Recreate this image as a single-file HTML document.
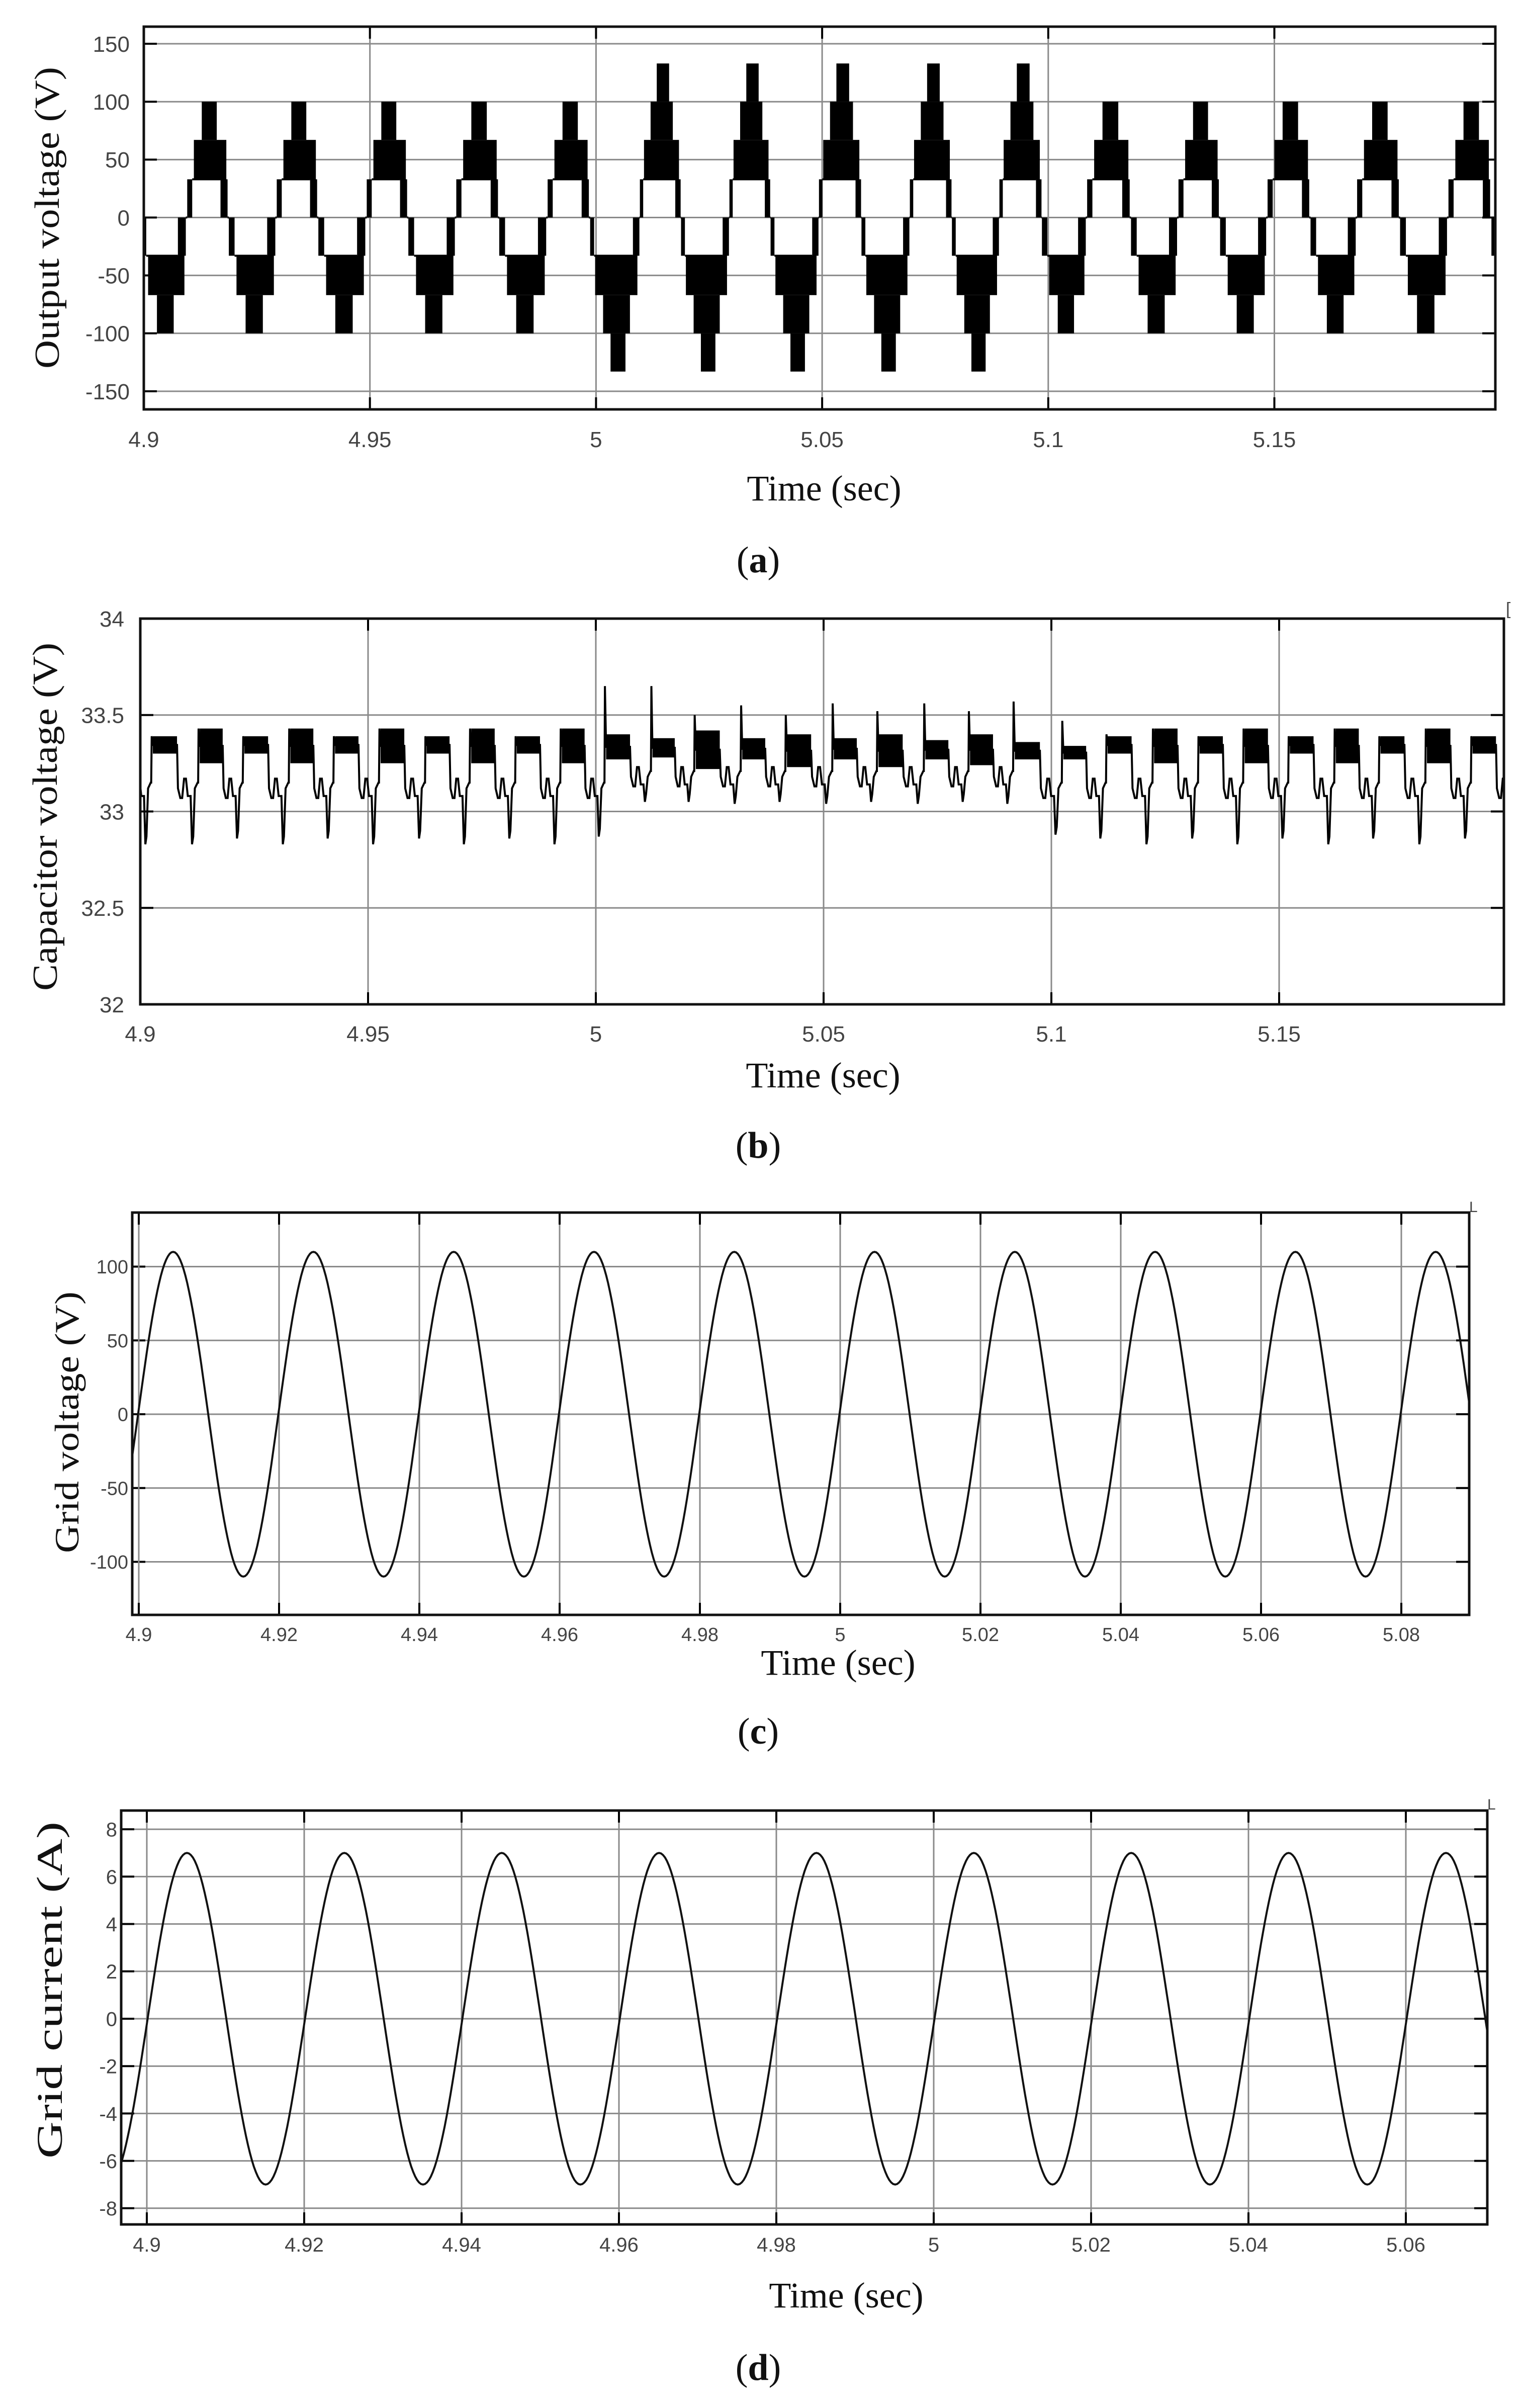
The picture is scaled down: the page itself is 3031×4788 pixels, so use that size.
<!DOCTYPE html>
<html>
<head>
<meta charset="utf-8">
<style>
html,body{margin:0;padding:0;background:#fff;}
svg{display:block;}
.tick{font-family:"Liberation Sans",Arial,sans-serif;fill:#444;}
.ttl{font-family:"Liberation Serif",serif;fill:#111;}
</style>
</head>
<body>
<svg id="fig" width="3031" height="4788" viewBox="0 0 3031 4788" xmlns="http://www.w3.org/2000/svg">
<rect x="0" y="0" width="3031" height="4788" fill="#fff"/>
<defs>
<clipPath id="clipA"><rect x="286" y="53" width="2688" height="761"/></clipPath>
<clipPath id="clipB"><rect x="279" y="1230" width="2712" height="767"/></clipPath>
<clipPath id="clipC"><rect x="263" y="2411" width="2659" height="800"/></clipPath>
<clipPath id="clipD"><rect x="241" y="3600" width="2717" height="823"/></clipPath>
</defs>
<g id="panelA"></g>
<g id="panelB"></g>
<g id="panelC"></g>
<g id="panelD"></g>
</svg>
<script>
// ---------- Panel (a) data: multilevel output voltage ----------
var aHalfStart = [4.8993,4.9096,4.9188,4.9294,4.9386,4.9493,4.9585,4.9691,4.9786,4.9893,4.9987,5.0097,5.0188,5.0295,5.0386,5.0493,5.0587,5.0694,5.0787,5.0892,5.0986,5.1086,5.1183,5.1288,5.1380,5.1485,5.1580,5.1683,5.1778,5.1885,5.1980,5.2080];
var aHalfSign  = [-1,1,-1,1,-1,1,-1,1,-1,1,-1,1,-1,1,-1,1,-1,1,-1,1,-1,1,-1,1,-1,1,-1,1,-1,1,-1];
var aHalfLevels= [3,3,3,3,3,3,3,3,3,3,4,4,4,4,4,4,4,4,4,4,3,3,3,3,3,3,3,3,3,3,3];
var aVoltageLevels = [0,33,67,100,133];
var aYTicks = [-150,-100,-50,0,50,100,150];
var aXTicks = [4.9,4.95,5,5.05,5.1,5.15];
var aXTickLabels = ["4.9","4.95","5","5.05","5.1","5.15"];

// ---------- Panel (b) data: capacitor voltage ----------
var bRise = [4.8925,4.9024,4.9127,4.9225,4.9326,4.9424,4.9524,4.9625,4.9723,4.9823,4.9922,5.0019,5.0121,5.0216,5.0318,5.0416,5.0519,5.0617,5.0720,5.0818,5.0916,5.1023,5.1120,5.1222,5.1322,5.1421,5.1520,5.1621,5.1719,5.1821,5.1921,5.2021];
var bSpike = [33.39,33.39,33.43,33.39,33.43,33.39,33.43,33.39,33.43,33.39,33.43,33.65,33.65,33.50,33.55,33.50,33.56,33.52,33.56,33.52,33.57,33.47,33.40,33.43,33.39,33.43,33.39,33.43,33.39,33.43,33.39];
var bPlatHi = [33.39,33.39,33.43,33.39,33.43,33.39,33.43,33.39,33.43,33.39,33.43,33.40,33.38,33.42,33.38,33.40,33.38,33.40,33.37,33.40,33.36,33.34,33.39,33.43,33.39,33.43,33.39,33.43,33.39,33.43,33.39];
var bPlatLo = [33.30,33.30,33.25,33.30,33.25,33.30,33.25,33.30,33.25,33.30,33.25,33.27,33.28,33.22,33.27,33.23,33.27,33.23,33.27,33.24,33.27,33.27,33.30,33.25,33.30,33.25,33.30,33.25,33.30,33.25,33.30];
var bStep = [33.12,33.12,33.12,33.12,33.12,33.12,33.12,33.12,33.12,33.12,33.12,33.18,33.18,33.18,33.18,33.18,33.18,33.18,33.18,33.18,33.12,33.12,33.12,33.12,33.12,33.12,33.12,33.12,33.12,33.12,33.12];
var bDip = [32.83,32.83,32.86,32.83,32.86,32.83,32.86,32.83,32.86,32.83,32.87,33.05,33.05,33.04,33.05,33.04,33.05,33.04,33.05,33.04,32.88,32.86,32.83,32.86,32.83,32.86,32.83,32.86,32.83,32.86,32.83];
// typical in-cycle shape (fraction of cycle, offset from step level)
var bShapeFrac = [0.57,0.62,0.66,0.70,0.74,0.78,0.84];
var bShapeRel  = [0.00,-0.05,-0.05,0.05,0.05,-0.04,-0.04];
var bYTicks = [32,32.5,33,33.5,34];
var bYTickLabels = ["32","32.5","33","33.5","34"];
var bXTicks = [4.9,4.95,5,5.05,5.1,5.15];
var bXTickLabels = ["4.9","4.95","5","5.05","5.1","5.15"];

// ---------- Panel (c) data: grid voltage extrema ----------
var cExtT = [4.8949,4.9049,4.9149,4.9249,4.9349,4.9449,4.9549,4.9649,4.9749,4.9849,4.9949,5.0049,5.0149,5.0249,5.0349,5.0449,5.0549,5.0649,5.0749,5.0849,5.0949];
var cExtV = [-110,110,-110,110,-110,110,-110,110,-110,110,-110,110,-110,110,-110,110,-110,110,-110,110,-110];
var cYTicks = [-100,-50,0,50,100];
var cXTicks = [4.9,4.92,4.94,4.96,4.98,5,5.02,5.04,5.06,5.08];
var cXTickLabels = ["4.9","4.92","4.94","4.96","4.98","5","5.02","5.04","5.06","5.08"];

// ---------- Panel (d) data: grid current extrema ----------
var dExtT = [4.8951,4.9051,4.9151,4.9251,4.9351,4.9451,4.9551,4.9651,4.9751,4.9851,4.9951,5.0051,5.0151,5.0251,5.0351,5.0451,5.0551,5.0651,5.0751];
var dExtV = [-7,7,-7,7,-7,7,-7,7,-7,7,-7,7,-7,7,-7,7,-7,7,-7];
var dYTicks = [-8,-6,-4,-2,0,2,4,6,8];
var dXTicks = [4.9,4.92,4.94,4.96,4.98,5,5.02,5.04,5.06];
var dXTickLabels = ["4.9","4.92","4.94","4.96","4.98","5","5.02","5.04","5.06"];

var NS = "http://www.w3.org/2000/svg";
function mk(parent, tag, attrs){
  var e = document.createElementNS(NS, tag);
  for (var k in attrs) e.setAttribute(k, attrs[k]);
  parent.appendChild(e);
  return e;
}
function fmt(v){ return String(v); }

function frame(g, P){
  // gridlines
  P.yt.forEach(function(v){
    var y = P.sy(v);
    var l = mk(g,'line',{x1:P.L,x2:P.R,y1:y,y2:y,stroke:'#8a8a8a','stroke-width':3});
    
    
    var t1 = mk(g,'line',{x1:P.L,x2:P.L+26,y1:y,y2:y,stroke:'#000','stroke-width':4});
    
    
    var t2 = mk(g,'line',{x1:P.R-26,x2:P.R,y1:y,y2:y,stroke:'#000','stroke-width':4});
    
    
  });
  P.xt.forEach(function(v){
    var x = P.sx(v);
    var l = mk(g,'line',{x1:x,x2:x,y1:P.T,y2:P.B,stroke:'#8a8a8a','stroke-width':3});
    
    
    var t1 = mk(g,'line',{x1:x,x2:x,y1:P.B-24,y2:P.B,stroke:'#000','stroke-width':4});
    
    
    var t2 = mk(g,'line',{x1:x,x2:x,y1:P.T,y2:P.T+24,stroke:'#000','stroke-width':4});
    
    
  });
}
function border(g, P){
  var r = mk(g,'rect',{x:P.L,y:P.T,width:P.R-P.L,height:P.B-P.T,fill:'none',stroke:'#111','stroke-width':5});
  
  
}
function labels(g, P){
  P.yt.forEach(function(v,i){
    var t = mk(g,'text',{x:P.ylx,y:P.sy(v)+P.fs*0.36,'text-anchor':'end','font-size':P.fs,'class':'tick'});
    t.textContent = P.ytl ? P.ytl[i] : fmt(v);
    
    
  });
  P.xt.forEach(function(v,i){
    var t = mk(g,'text',{x:P.sx(v),y:P.xly,'text-anchor':'middle','font-size':P.fs,'class':'tick'});
    t.textContent = P.xtl[i];
    
    
  });
  var xt = mk(g,'text',{x:P.xtx,y:P.xty,'text-anchor':'middle','font-size':72,'class':'ttl'});
  xt.textContent = 'Time (sec)';
  
  
  var yt = mk(g,'text',{x:0,y:0,'text-anchor':'middle','font-size':P.yfs,'class':'ttl',
    transform:'translate('+P.ytx+','+P.yty+') rotate(-90)',textLength:P.ytl2,lengthAdjust:'spacingAndGlyphs'});
  yt.textContent = P.ytitle;
  
  
  var cap = mk(g,'text',{x:P.capx,y:P.capy,'text-anchor':'middle','font-size':74,'class':'ttl'});
  
  
  var s1 = mk(cap,'tspan',{}); s1.textContent='(';
  var s2 = mk(cap,'tspan',{'font-weight':'bold'}); s2.textContent=P.cap;
  var s3 = mk(cap,'tspan',{}); s3.textContent=')';
}

// ---------------- Panel A ----------------
(function(){
  var g = document.getElementById('panelA');
  var P = {L:286,R:2974,T:53,B:814,
    sx:function(t){return 286+(t-4.9)*8994;},
    sy:function(v){return 432.5-v*2.303;},
    yt:aYTicks, xt:aXTicks, xtl:aXTickLabels, fs:44, ylx:258, xly:889,
    xtx:1639,xty:995, ytx:117,yty:433, yfs:70, ytl2:600, ytitle:'Output voltage (V)',
    cap:'a',capx:1508,capy:1138};
  frame(g,P);
  var w = mk(g,'g',{'clip-path':'url(#clipA)'});
  
  
  for (var i=0;i<aHalfSign.length;i++){
    var t0=aHalfStart[i], t1=aHalfStart[i+1], s=aHalfSign[i], n=aHalfLevels[i];
    var D=t1-t0;
    var f = function(fr){return P.sx(t0+fr*D);};
    var Y = function(k){return P.sy(s*aVoltageLevels[k]);};
    var thin = n===4 ? [[0,0.08],[0.86,0.99]] : [[0,0.12],[0.80,0.97]];
    var bands = n===4 ? [[0.10,0.95],[0.26,0.80],[0.41,0.71]] : [[0.16,0.94],[0.35,0.71]];
    thin.forEach(function(b){
      var y0=Math.min(Y(0),Y(1)), y1=Math.max(Y(0),Y(1));
      var r = mk(w,'rect',{x:f(b[0]),y:y0,width:f(b[1])-f(b[0]),height:y1-y0,fill:'#000'});
      
      
    });
    var wl = mk(w,'line',{x1:f(thin[0][1]),x2:f(thin[1][0]),y1:Y(1),y2:Y(1),stroke:'#000','stroke-width':4});
    
    
    var zl = mk(w,'line',{x1:f(thin[1][1]),x2:f(1),y1:Y(0),y2:Y(0),stroke:'#000','stroke-width':4});
    
    
    bands.forEach(function(b,k){
      var y0=Math.min(Y(k+1),Y(k+2)), y1=Math.max(Y(k+1),Y(k+2));
      var r = mk(w,'rect',{x:f(b[0]),y:y0,width:f(b[1])-f(b[0]),height:y1-y0,fill:'#000'});
      
      
    });
  }
  border(g,P);
  labels(g,P);
})();

// ---------------- Panel B ----------------
(function(){
  var g = document.getElementById('panelB');
  var P = {L:279,R:2991,T:1230,B:1997,
    sx:function(t){return 279+(t-4.9)*9060;},
    sy:function(v){return 1613.5-(v-33)*383.5;},
    yt:bYTicks, ytl:bYTickLabels, xt:bXTicks, xtl:bXTickLabels, fs:44, ylx:247, xly:2071,
    xtx:1637,xty:2162, ytx:113,yty:1624, yfs:70, ytl2:692, ytitle:'Capacitor voltage (V)',
    cap:'b',capx:1508,capy:2302};
  frame(g,P);
  var w = mk(g,'g',{'clip-path':'url(#clipB)'});
  
  
  var pts=[];
  for (var k=0;k<bSpike.length;k++){
    var r=bRise[k], Pd=bRise[k+1]-r, mid=(bPlatHi[k]+bPlatLo[k])/2;
    var T=function(fr){return P.sx(r+fr*Pd);};
    pts.push([T(0),P.sy(k>0?bStep[k-1]+0.03:33.15)]);
    pts.push([T(0.01),P.sy(bSpike[k])]);
    pts.push([T(0.035),P.sy(mid)]);
    pts.push([T(0.55),P.sy(mid)]);
    for (var j=0;j<bShapeFrac.length;j++) pts.push([T(bShapeFrac[j]),P.sy(bStep[k]+bShapeRel[j])]);
    pts.push([T(0.87),P.sy(bDip[k])]);
    pts.push([T(0.895),P.sy(bDip[k]+0.04)]);
    pts.push([T(0.93),P.sy(bStep[k])]);
    pts.push([T(0.99),P.sy(bStep[k]+0.03)]);
    var band = mk(w,'rect',{x:T(0.035),y:P.sy(bPlatHi[k]),width:T(0.55)-T(0.035),height:P.sy(bPlatLo[k])-P.sy(bPlatHi[k]),fill:'#000'});
    
    
  }
  var d = pts.map(function(p,i){return (i?'L':'M')+p[0].toFixed(1)+','+p[1].toFixed(1);}).join('');
  var line = mk(w,'path',{d:d,fill:'none',stroke:'#000','stroke-width':4,'stroke-linejoin':'miter'});
  
  
  border(g,P);
  labels(g,P);
  var m = mk(g,'text',{x:2995,y:1222,'font-size':34,'class':'tick'}); m.textContent='[';
  
  
})();

function sineFromExtrema(T,V,P){
  var pts=[];
  for (var i=0;i<T.length-1;i++){
    var a=V[i], b=V[i+1], ta=T[i], tb=T[i+1];
    for (var s=0;s<40;s++){
      var u=s/40, t=ta+u*(tb-ta);
      var v=(a+b)/2+(a-b)/2*Math.cos(Math.PI*u);
      pts.push([P.sx(t),P.sy(v)]);
    }
  }
  pts.push([P.sx(T[T.length-1]),P.sy(V[V.length-1])]);
  return pts.map(function(p,i){return (i?'L':'M')+p[0].toFixed(1)+','+p[1].toFixed(1);}).join('');
}

// ---------------- Panel C ----------------
(function(){
  var g = document.getElementById('panelC');
  var P = {L:263,R:2922,T:2411,B:3211,
    sx:function(t){return 276+(t-4.9)*13950;},
    sy:function(v){return 2812-v*2.935;},
    yt:cYTicks, xt:cXTicks, xtl:cXTickLabels, fs:38, ylx:255, xly:3263,
    xtx:1667,xty:3330, ytx:156,yty:2828, yfs:68, ytl2:520, ytitle:'Grid voltage (V)',
    cap:'c',capx:1508,capy:3467};
  frame(g,P);
  var w = mk(g,'g',{'clip-path':'url(#clipC)'});
  
  
  var l = mk(w,'path',{d:sineFromExtrema(cExtT,cExtV,P),fill:'none',stroke:'#111','stroke-width':4});
  
  
  border(g,P);
  labels(g,P);
  var m = mk(g,'text',{x:2922,y:2410,'font-size':30,'class':'tick'}); m.textContent='L';
  
  
})();

// ---------------- Panel D ----------------
(function(){
  var g = document.getElementById('panelD');
  var P = {L:241,R:2958,T:3600,B:4423,
    sx:function(t){return 292+(t-4.9)*15650;},
    sy:function(v){return 4014-v*47.1;},
    yt:dYTicks, xt:dXTicks, xtl:dXTickLabels, fs:40, ylx:233, xly:4477,
    xtx:1683,xty:4588, ytx:123,yty:3957, yfs:72, ytl2:670, ytitle:'Grid current (A)',
    cap:'d',capx:1508,capy:4732};
  frame(g,P);
  var w = mk(g,'g',{'clip-path':'url(#clipD)'});
  
  
  var l = mk(w,'path',{d:sineFromExtrema(dExtT,dExtV,P),fill:'none',stroke:'#111','stroke-width':4});
  
  
  border(g,P);
  labels(g,P);
  var m = mk(g,'text',{x:2958,y:3598,'font-size':30,'class':'tick'}); m.textContent='L';
  
  
})();
</script>
</body>
</html>
